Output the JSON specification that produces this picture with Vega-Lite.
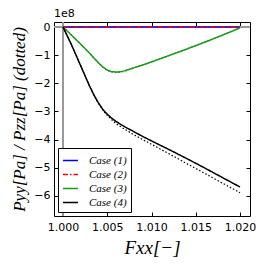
{
  "$schema": "https://vega.github.io/schema/vega-lite/v6.json",
  "autosize": {"type": "none"},
  "padding": {"left": 54, "top": 22, "right": 16, "bottom": 50},
  "width": 196,
  "height": 194,
  "background": "white",
  "title": {"text": "1e8", "anchor": "start", "frame": "group", "font": "DejaVu Sans", "fontSize": 11, "fontWeight": "normal", "color": "black", "offset": 2},
  "config": {
    "view": {"stroke": "black", "strokeWidth": 1},
    "axis": {"domain": false, "grid": false, "tickColor": "black", "tickSize": -4, "tickWidth": 1, "labelFont": "DejaVu Sans", "labelFontSize": 11, "labelColor": "black", "titleColor": "black", "titleFontWeight": "normal"},
    "legend": {"orient": "bottom-left", "offset": 4, "title": null, "symbolType": "stroke", "symbolSize": 225, "symbolStrokeWidth": 1.5, "labelFont": "Liberation Serif", "labelFontStyle": "italic", "labelFontSize": 11, "labelColor": "black", "rowPadding": 0, "padding": 4, "strokeColor": "black", "fillColor": "white", "cornerRadius": 0, "labelOffset": 10}
  },
  "data": {"values": [
    {"x": 1.000, "case": "Case (1)", "yy": 0, "zz": 0},
    {"x": 1.005, "case": "Case (1)", "yy": 0, "zz": 0},
    {"x": 1.010, "case": "Case (1)", "yy": 0, "zz": 0},
    {"x": 1.015, "case": "Case (1)", "yy": 0, "zz": 0},
    {"x": 1.020, "case": "Case (1)", "yy": 0, "zz": 0},
    {"x": 1.000, "case": "Case (2)", "yy": 0, "zz": 0},
    {"x": 1.005, "case": "Case (2)", "yy": 0, "zz": 0},
    {"x": 1.010, "case": "Case (2)", "yy": 0, "zz": 0},
    {"x": 1.015, "case": "Case (2)", "yy": 0, "zz": 0},
    {"x": 1.020, "case": "Case (2)", "yy": 0, "zz": 0},
    {"x": 1.000, "case": "Case (3)", "yy": 0, "zz": 0},
    {"x": 1.001, "case": "Case (3)", "yy": -0.30, "zz": -0.30},
    {"x": 1.002, "case": "Case (3)", "yy": -0.61, "zz": -0.61},
    {"x": 1.003, "case": "Case (3)", "yy": -0.93, "zz": -0.93},
    {"x": 1.004, "case": "Case (3)", "yy": -1.27, "zz": -1.28},
    {"x": 1.0045, "case": "Case (3)", "yy": -1.42, "zz": -1.43},
    {"x": 1.005, "case": "Case (3)", "yy": -1.53, "zz": -1.55},
    {"x": 1.0055, "case": "Case (3)", "yy": -1.585, "zz": -1.60},
    {"x": 1.006, "case": "Case (3)", "yy": -1.60, "zz": -1.62},
    {"x": 1.0065, "case": "Case (3)", "yy": -1.59, "zz": -1.61},
    {"x": 1.007, "case": "Case (3)", "yy": -1.55, "zz": -1.57},
    {"x": 1.0075, "case": "Case (3)", "yy": -1.50, "zz": -1.51},
    {"x": 1.008, "case": "Case (3)", "yy": -1.45, "zz": -1.45},
    {"x": 1.009, "case": "Case (3)", "yy": -1.35, "zz": -1.35},
    {"x": 1.010, "case": "Case (3)", "yy": -1.24, "zz": -1.24},
    {"x": 1.012, "case": "Case (3)", "yy": -1.01, "zz": -1.01},
    {"x": 1.014, "case": "Case (3)", "yy": -0.78, "zz": -0.78},
    {"x": 1.016, "case": "Case (3)", "yy": -0.54, "zz": -0.54},
    {"x": 1.018, "case": "Case (3)", "yy": -0.29, "zz": -0.29},
    {"x": 1.020, "case": "Case (3)", "yy": -0.03, "zz": -0.03},
    {"x": 1.000, "case": "Case (4)", "yy": 0, "zz": 0},
    {"x": 1.001, "case": "Case (4)", "yy": -0.66, "zz": -0.66},
    {"x": 1.002, "case": "Case (4)", "yy": -1.38, "zz": -1.38},
    {"x": 1.003, "case": "Case (4)", "yy": -2.10, "zz": -2.10},
    {"x": 1.0035, "case": "Case (4)", "yy": -2.42, "zz": -2.42},
    {"x": 1.004, "case": "Case (4)", "yy": -2.70, "zz": -2.71},
    {"x": 1.0045, "case": "Case (4)", "yy": -2.93, "zz": -2.95},
    {"x": 1.005, "case": "Case (4)", "yy": -3.10, "zz": -3.14},
    {"x": 1.0055, "case": "Case (4)", "yy": -3.24, "zz": -3.30},
    {"x": 1.006, "case": "Case (4)", "yy": -3.36, "zz": -3.44},
    {"x": 1.007, "case": "Case (4)", "yy": -3.55, "zz": -3.64},
    {"x": 1.008, "case": "Case (4)", "yy": -3.72, "zz": -3.83},
    {"x": 1.009, "case": "Case (4)", "yy": -3.89, "zz": -4.00},
    {"x": 1.010, "case": "Case (4)", "yy": -4.05, "zz": -4.17},
    {"x": 1.012, "case": "Case (4)", "yy": -4.36, "zz": -4.51},
    {"x": 1.014, "case": "Case (4)", "yy": -4.68, "zz": -4.86},
    {"x": 1.016, "case": "Case (4)", "yy": -5.01, "zz": -5.20},
    {"x": 1.018, "case": "Case (4)", "yy": -5.35, "zz": -5.55},
    {"x": 1.020, "case": "Case (4)", "yy": -5.69, "zz": -5.89}
  ]},
  "resolve": {"axis": {"x": "independent", "y": "independent"}},
  "layer": [
    {
      "mark": {"type": "rule", "color": "#999999", "strokeWidth": 1.5},
      "encoding": {"y": {"datum": 0, "type": "quantitative", "scale": {"domain": [-6.72, 0.18], "nice": false, "zero": false}, "axis": null}}
    },
    {
      "mark": {"type": "rule", "color": "#999999", "strokeWidth": 1.5},
      "encoding": {"x": {"datum": 1.0, "type": "quantitative", "scale": {"domain": [0.99898, 1.02113], "nice": false, "zero": false}, "axis": null}}
    },
    {
      "mark": {"type": "line", "strokeWidth": 1.2, "strokeDash": [1.5, 2]},
      "encoding": {
        "x": {"field": "x", "type": "quantitative", "axis": {"orient": "top", "labels": false, "title": null, "values": [1.0, 1.005, 1.01, 1.015, 1.02]}},
        "y": {"field": "zz", "type": "quantitative", "axis": {"orient": "right", "labels": false, "title": null, "values": [-6, -5, -4, -3, -2, -1, 0]}},
        "color": {"field": "case", "type": "nominal"},
        "detail": {"field": "case"}
      }
    },
    {
      "mark": {"type": "line", "strokeWidth": 1.5},
      "encoding": {
        "x": {"field": "x", "type": "quantitative", "axis": {"orient": "bottom", "values": [1.0, 1.005, 1.01, 1.015, 1.02], "format": ".3f", "labelPadding": 9, "title": "Fxx[−]", "titleFont": "Liberation Serif", "titleFontStyle": "italic", "titleFontSize": 19, "titlePadding": 6}},
        "y": {"field": "yy", "type": "quantitative", "axis": {"orient": "left", "values": [-6, -5, -4, -3, -2, -1, 0], "format": "d", "labelPadding": 8, "title": "Pyy[Pa] / Pzz[Pa] (dotted)", "titleFont": "Liberation Serif", "titleFontStyle": "italic", "titleFontSize": 17, "titlePadding": 5}},
        "color": {"field": "case", "type": "nominal", "scale": {"domain": ["Case (1)", "Case (2)", "Case (3)", "Case (4)"], "range": ["#0000ff", "#ff0000", "#1e961e", "#000000"]}},
        "strokeDash": {"field": "case", "type": "nominal", "scale": {"domain": ["Case (1)", "Case (2)", "Case (3)", "Case (4)"], "range": [[1, 0], [5, 2, 1.5, 2], [1, 0], [1, 0]]}}
      }
    }
  ]
}
